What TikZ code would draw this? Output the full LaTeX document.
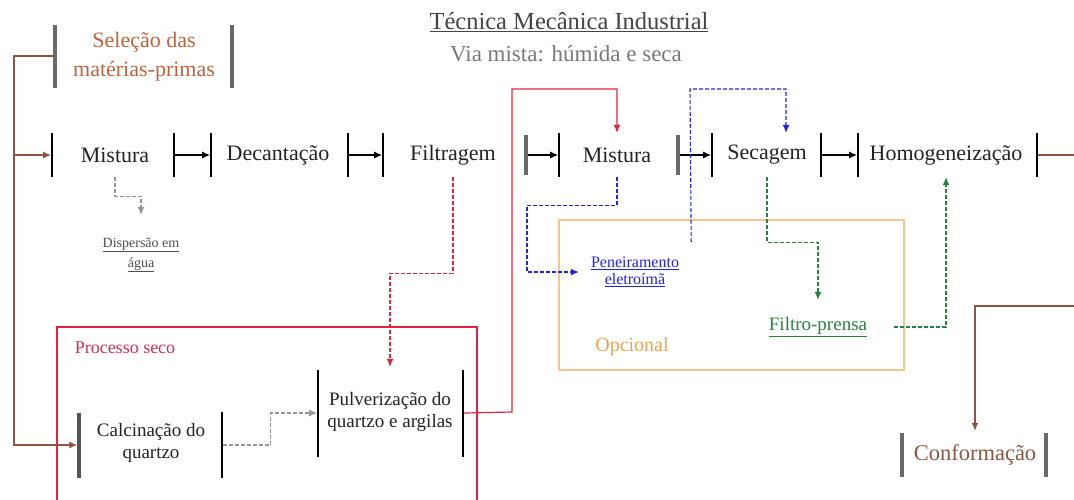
\documentclass[tikz,border=0pt]{standalone}
\usepackage{fontspec}
\setmainfont{Liberation Serif}
\usetikzlibrary{arrows.meta}

\definecolor{selcol}{RGB}{190,100,60}
\definecolor{brownln}{RGB}{140,85,65}
\definecolor{redln}{RGB}{225,35,60}
\definecolor{redtext}{RGB}{215,45,80}
\definecolor{bluecol}{RGB}{35,35,225}
\definecolor{greencol}{RGB}{40,130,60}
\definecolor{optbox}{RGB}{240,200,140}
\definecolor{opttext}{RGB}{240,160,80}
\definecolor{grayln}{RGB}{150,150,150}
\definecolor{bargray}{RGB}{105,105,105}
\definecolor{ink}{RGB}{35,35,35}

\tikzset{
  x=1pt, y=-1pt,
  tip/.style={-{Latex[length=8pt,width=7pt]}},
  stepbar/.style={fill=black, minimum width=1.8pt, minimum height=44pt, inner sep=0pt, outer sep=0pt},
  heavybar/.style={fill=bargray, minimum width=3.5pt, inner sep=0pt, outer sep=0pt},
  steptext/.style={text=ink, font=\fontsize{22}{24}\selectfont, minimum height=44pt, inner sep=0pt},
  smalltext/.style={font=\fontsize{19}{22}\selectfont, text=ink, align=center, inner sep=0pt},
  flow/.style={tip, line width=1.2pt},
  dashflow/.style={tip, line width=1.1pt, dash pattern=on 4pt off 2pt},
}

\begin{document}
\begin{tikzpicture}
\useasboundingbox (0,0) rectangle (1074,499);

% title
\node[text=ink!85, font=\fontsize{24.5}{26}\selectfont] (title) at (569,22) {\underline{Técnica Mecânica Industrial}};
\node[text=grayln!80!black, font=\fontsize{23}{25}\selectfont] (subtitle) at (566,54) {Via mista: húmida e seca};

% frames: dry process and optional steps
\draw[redln, line width=1.2pt] (57,327) rectangle (477,510);
\node[text=redtext, font=\fontsize{18}{20}\selectfont] (seco) at (125,348) {Processo seco};
\draw[optbox, line width=1.2pt] (559,220) rectangle (904,370);
\node[text=opttext, font=\fontsize{20}{22}\selectfont] (opc) at (632,347) {Opcional};

% raw material selection
\node[heavybar, minimum height=63pt] (selL) at (55,56) {};
\node[heavybar, minimum height=63pt] (selR) at (232,56) {};
\node[text=selcol, font=\fontsize{22}{29}\selectfont, align=center] (sel) at (144,57) {Seleção das\\matérias-primas};

% main row
\node[stepbar] (mixL) at (52,155) {};
\node[steptext] (mix) at (115,155) {Mistura};
\node[stepbar] (mixR) at (174,155) {};
\node[stepbar] (decL) at (211,155) {};
\node[steptext] (dec) at (278,155) {Decantação};
\node[stepbar] (decR) at (348,155) {};
\node[stepbar] (filL) at (383,155) {};
\node[steptext] (fil) at (453,155) {Filtragem};
\node[heavybar, minimum height=40pt] (filR) at (526,155) {};
\node[stepbar] (mixbL) at (559,155) {};
\node[steptext] (mixb) at (617,155) {Mistura};
\node[heavybar, minimum height=40pt] (mixbR) at (678,155) {};
\node[stepbar] (secL) at (712,155) {};
\node[steptext] (sec) at (767,155) {Secagem};
\node[stepbar] (secR) at (821,155) {};
\node[stepbar] (homL) at (858,155) {};
\node[steptext] (hom) at (946,155) {Homogeneização};
\node[stepbar] (homR) at (1037,155) {};

\draw[flow] (mixR.east) -- (decL.west);
\draw[flow] (decR.east) -- (filL.west);
\draw[flow] (filR.east) -- (mixbL.west);
\draw[flow] (mixbR.east) -- (secL.west);
\draw[flow] (secR.east) -- (homL.west);

% dry process steps
\node[heavybar, fill=bargray!80!black, minimum height=65pt] (calL) at (79,445) {};
\node[smalltext, minimum height=65pt] (cal) at (151,443) {Calcinação do\\quartzo};
\node[stepbar, minimum height=66pt] (calR) at (222,445) {};
\node[stepbar, minimum height=87pt] (pulL) at (318,413) {};
\node[smalltext, minimum height=90pt] (pul) at (390,412) {Pulverização do\\quartzo e argilas};
\node[stepbar, minimum height=87pt] (pulR) at (463,413) {};

% side notes
\node[text=ink!80, font=\fontsize{14}{20}\selectfont, align=center, minimum height=80pt, inner sep=0pt] (disp) at (141,255) {\underline{Dispersão em}\\\underline{água}};
\node[text=bluecol, font=\fontsize{16}{17}\selectfont, align=center, minimum width=112pt, minimum height=60pt, inner sep=0pt] (pen) at (635,272) {\underline{Peneiramento}\\\underline{eletroímã}};
\node[text=greencol, font=\fontsize{19}{21}\selectfont, minimum width=152pt, minimum height=54pt, inner sep=0pt] (fp) at (818,327) {\underline{Filtro-prensa}};

% shaping
\node[heavybar, minimum height=44pt] (confL) at (902,455) {};
\node[text=brownln, font=\fontsize{22.5}{24}\selectfont, minimum height=48pt, inner sep=0pt] (conf) at (975,455) {Conformação};
\node[heavybar, minimum height=44pt] (confR) at (1046,455) {};

% feed lines from the raw materials
\coordinate (branch) at (14,155);
\draw[brownln, line width=1.2pt, -{Latex[length=8pt,width=7pt]}] (selL.west) -| (14,445) -- (calL.west);
\draw[brownln, line width=1.2pt, -{Latex[length=8pt,width=7pt]}] (branch) -- (mixL.west);

% to shaping
\draw[brownln, line width=1.2pt, -{Latex[length=8pt,width=7pt]}] (homR.east) -- (1090,155) -- (1090,306) -| (conf.north);

% dispersion
\draw[dashflow, grayln] (mix.south) -- ++(0,19) -| (disp.north);

% dry route
\draw[dashflow, redln] (fil.south) -- ++(0,96) -| (pul.north);
\draw[dashflow, grayln] (calR.east) -- ++(48,0) |- (pulL.west);
\draw[flow, redln] (pulR.east) -- (512,412) -- (512,89) -| (mixb.north);

% optional route
\draw[dashflow, bluecol] (mixb.south) -- ++(0,28) -| (527,272) -- (pen.west);
\draw[dashflow, bluecol] (pen.north east) -- (690,89) -| ([xshift=19pt]sec.north);
\draw[dashflow, greencol] (sec.south) -- ++(0,65) -| (fp.north);
\draw[dashflow, greencol] (fp.east) -| (hom.south);
\end{tikzpicture}
\end{document}
